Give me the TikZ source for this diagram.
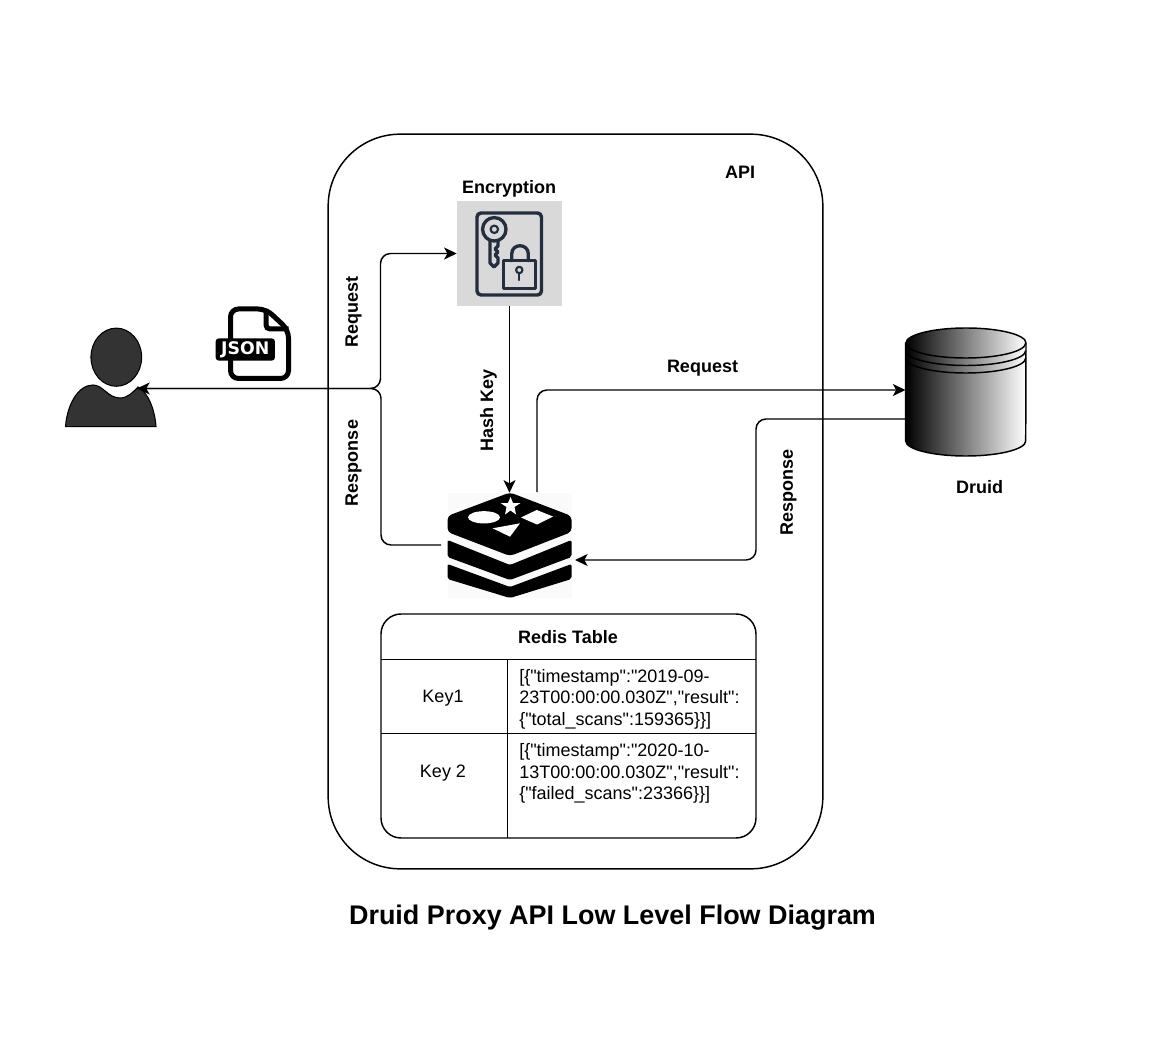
\documentclass[tikz,border=0pt]{standalone}
\usepackage{fontspec}
\setmainfont{Liberation Sans}[Ligatures=TeXOff]
\usetikzlibrary{arrows.meta}

\definecolor{iconblue}{HTML}{232F3E}
\definecolor{keygrey}{HTML}{D9D9D9}
\definecolor{persongrey}{HTML}{333333}

\tikzset{
  flow/.style={draw=black,line width=1.1pt,rounded corners=7.5pt,-{Stealth[length=9.5pt,width=9pt,inset=2.5pt]}},
  boldlabel/.style={font=\bfseries\fontsize{13.5}{16}\selectfont,inner sep=0pt},
  plaincell/.style={font=\fontsize{13.5}{16.1}\selectfont,inner sep=0pt},
  iconline/.style={draw=iconblue,line width=2.6pt,line join=round,line cap=round},
}

\begin{document}
\begin{tikzpicture}[x=0.75pt,y=-0.75pt]
    \useasboundingbox (0,0) rectangle (1170,1044);

    % API container
    \node[draw,line width=1.1pt,rounded corners=54pt,minimum width=371pt,minimum height=551pt,inner sep=0pt] (api) at (575.5,501.5) {};
    \node[boldlabel] (apilabel) at (740,172) {API};

    % Main blocks
    \node[minimum width=68pt,minimum height=74pt,inner sep=0pt] (user) at (110.5,377.5) {};
    \node[fill=keygrey,minimum width=78.75pt,minimum height=78.75pt,inner sep=0pt] (enc) at (509.5,253.5) {};
    \node[fill=black!2,minimum width=93pt,minimum height=78.75pt,inner sep=0pt] (redis) at (509.5,545.5) {};
    \node[minimum width=90pt,minimum height=96pt,inner sep=0pt] (druid) at (966,392) {};
    \node[boldlabel] (enclabel) at (509,188.5) {Encryption};
    \node[boldlabel] (druidlabel) at (979.5,487.5) {Druid};

    % User icon
    \fill[persongrey,draw=black,line width=0.8pt] (116.3,357.2) ellipse [x radius=19pt,y radius=21.8pt];
    \fill[persongrey,draw=black,line width=0.8pt] (65.5,426.7) .. controls (67,405) and (78,385) .. (93,385)
        .. controls (103,385) and (108,398) .. (120,398)
        .. controls (128,398) and (133,392) .. (138,387)
        .. controls (148,392) and (155,410) .. (156,426.7) -- cycle;

    % JSON file icon
    \draw[line width=3.75pt,fill=white,rounded corners=6pt] (230.5,309) -- (266,309) -- (288.5,330) -- (288.5,378.5) -- (230.5,378.5) -- cycle;
    \draw[line width=3.75pt,rounded corners=3pt] (266,309) -- (266,329) -- (288.5,329);
    \node[fill=black,text=white,rounded corners=2.5pt,minimum width=44.5pt,minimum height=16.8pt,inner sep=0pt,font=\fontspec{DejaVu Sans Bold}\fontsize{13}{14}\selectfont] (json) at (245.3,349.5) {JSON};

    % Key and lock icon
    \draw[iconline,rounded corners=3pt] (477,213) rectangle (541.5,295);
    \draw[iconline,line width=2.5pt] (494.3,229.3) circle (8.8pt);
    \draw[iconline,line width=1.6pt] (494.3,229.3) circle (2.8pt);
    \draw[iconline,line width=2.5pt] (490,241) -- (490,263) -- (494,267) -- (498,263) -- (498,258) -- (495,255) -- (498,252) -- (495,249) -- (498,246) -- (498,241);
    \draw[iconline,fill=keygrey,line width=2.5pt] (503.3,260.7) rectangle (535.7,288.3);
    \draw[iconline,line width=2.5pt] (511.7,260.7) -- (511.7,254) .. controls (511.7,243) and (528.3,243) .. (528.3,254) -- (528.3,260.7);
    \draw[iconline,line width=1.6pt] (519.3,270) circle (2.4pt);
    \draw[iconline,line width=1.6pt] (519.3,273.5) -- (519.3,280);

    % Redis icon
    \fill[rounded corners=3pt] (510,492.5) -- (571.5,516) -- (571.5,532) -- (510,556) -- (447.5,532) -- (447.5,516) -- cycle;
    \fill[rounded corners=1.5pt] (447.5,540) -- (510,565) -- (571.5,540) -- (571.5,557) -- (510,580) -- (447.5,557) -- cycle;
    \fill[rounded corners=1.5pt] (447.5,564) -- (510,587) -- (571.5,564) -- (571.5,579) -- (510,598) -- (447.5,579) -- cycle;
    \fill[white] (484,517.3) ellipse [x radius=12pt,y radius=4.6pt];
    \fill[white] (510.5,497) -- (513,503) -- (520.5,503) -- (514.5,507) -- (516,514.5) -- (510.5,510.5) -- (505,514.5) -- (506.5,507) -- (500.5,503) -- (508,503) -- cycle;
    \fill[white] (536.7,510) -- (553,516.5) -- (537,524.5) -- (521,517.5) -- cycle;
    \fill[white] (492.7,528.3) -- (520,523.3) -- (510,536.7) -- cycle;

    % Druid cylinder
    \shade[left color=black,right color=white,draw=black,line width=1.1pt] (905.7,343) -- (905.7,441)
        arc[start angle=180,end angle=360,x radius=45pt,y radius=11.25pt] -- (1026,343)
        arc[start angle=0,end angle=180,x radius=45pt,y radius=11.25pt] -- cycle;
    \draw[line width=1.1pt] (905.7,343) arc[start angle=180,end angle=360,x radius=45pt,y radius=11.25pt];
    \draw[line width=1.1pt] (905.7,350.5) arc[start angle=180,end angle=360,x radius=45pt,y radius=11.25pt];
    \draw[line width=1.1pt] (905.7,358) arc[start angle=180,end angle=360,x radius=45pt,y radius=11.25pt];

    % Free ends of the connectors
    \coordinate (userport) at (137,388.5);
    \coordinate (redisleft) at (441,545);
    \coordinate (redisright) at (575,560);
    \coordinate (redistop) at (537,492);
    \coordinate (druidtop) at (905.5,390);
    \coordinate (druidlow) at (905.5,419);

    % Connectors
    \draw[flow] (userport) -- (380.5,388.5) -- (380.5,253.5) -- (enc.west);
    \draw[flow] (redisleft) -- (381,545) -- (381,388.5) -- (userport);
    \draw[flow,rounded corners=0pt] (enc.south) -- (redis.north);
    \draw[flow] (redistop) -- (537,390) -- (druidtop);
    \draw[flow] (druidlow) -- (756,419) -- (756,560) -- (redisright);

    % Connector labels
    \node[boldlabel,rotate=90] (reqleft) at (353.5,312) {Request};
    \node[boldlabel,rotate=90] (respleft) at (353.5,463) {Response};
    \node[boldlabel,rotate=90] (hashlabel) at (488.5,410) {Hash Key};
    \node[boldlabel] (reqright) at (702.5,368.5) {Request};
    \node[boldlabel,rotate=90] (respright) at (788.5,492) {Response};

    % Redis table
    \node[draw,line width=1.1pt,rounded corners=15pt,minimum width=281.25pt,minimum height=168pt,inner sep=0pt] (table) at (568.5,726) {};
    \draw[line width=1.1pt] (381,659.3) -- (756,659.3);
    \draw[line width=1.1pt] (381,733.5) -- (756,733.5);
    \draw[line width=1.1pt] (507.3,659) -- (507.3,838);
    \node[boldlabel] (tabletitle) at (568,637.5) {Redis Table};
    \node[plaincell] (keyone) at (443,698.5) {Key1};
    \node[plaincell] (keytwo) at (443,773.5) {Key 2};
    \node[plaincell,anchor=north west,align=left] (valueone) at (519,669) {[\{"timestamp":"2019-09-\\23T00:00:00.030Z","result":\\\{"total\_scans":159365\}\}]};
    \node[plaincell,anchor=north west,align=left] (valuetwo) at (519,743.5) {[\{"timestamp":"2020-10-\\13T00:00:00.030Z","result":\\\{"failed\_scans":23366\}\}]};

    % Title
    \node[font=\bfseries\fontsize{20.2}{24}\selectfont,inner sep=0pt] (title) at (612.5,918) {Druid Proxy API Low Level Flow Diagram};

\end{tikzpicture}
\end{document}
